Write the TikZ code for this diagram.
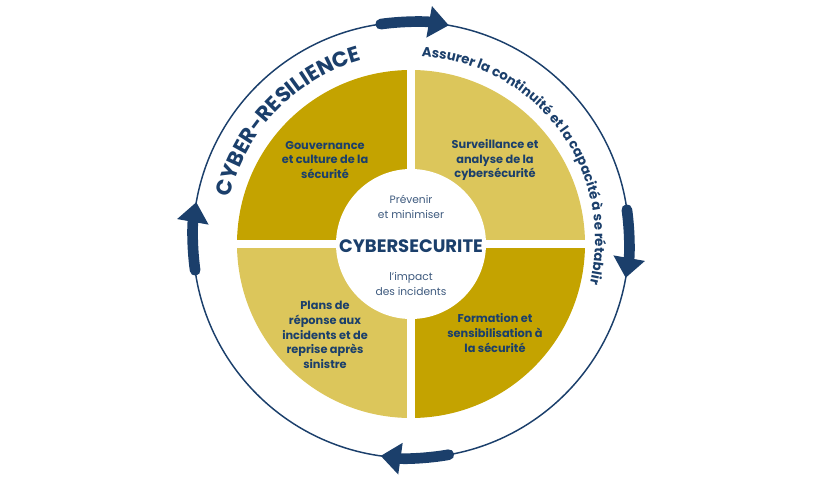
\documentclass[tikz,border=0pt]{standalone}
\usepackage{fontspec}
\setmainfont{Poppins}
\usetikzlibrary{decorations.text,arrows.meta}
\definecolor{navy}{HTML}{1B3F6B}
\definecolor{darkgold}{HTML}{C4A300}
\definecolor{lightgold}{HTML}{DCC65B}
\definecolor{softnavy}{HTML}{3E5A7E}
\tikzset{
  qtext/.style={text=navy,font=\bfseries\fontsize{8.5}{11}\selectfont,align=center},
  ctext/.style={text=softnavy,font=\fontsize{8}{11}\selectfont,align=center},
  cyc/.style={navy,line width=8pt,line cap=round,-{Triangle[length=15pt,width=23pt]}},
}
\begin{document}
\begin{tikzpicture}[x=0.75pt,y=0.75pt]
\useasboundingbox (0,0) rectangle (840,480);
\coordinate (O) at (411,240);
\coordinate (C) at (411,236);
% outer circle
\draw[navy,line width=1.1pt] (O) circle (218);
% quadrants
\fill[darkgold] (C) -- ++(180:174) arc (180:90:174) -- cycle;
\fill[lightgold] (C) -- ++(90:174) arc (90:0:174) -- cycle;
\fill[darkgold] (C) -- ++(0:174) arc (0:-90:174) -- cycle;
\fill[lightgold] (C) -- ++(-90:174) arc (-90:-180:174) -- cycle;
\draw[white,line width=6pt] ([xshift=-180]C) -- ([xshift=180]C);
\draw[white,line width=6pt] ([yshift=-180]C) -- ([yshift=180]C);
\fill[white] (C) circle (75);
% cycle arrows
\draw[cyc] (O) ++(98:218) arc (98:80:218);
\draw[cyc] (O) ++(8:218) arc (8:-10:218);
\draw[cyc] (O) ++(-80:218) arc (-80:-98:218);
\draw[cyc] (O) ++(188:218) arc (188:170:218);
% curved texts
\path[decorate,decoration={text along path,text align=center,
  text={|\bfseries\fontsize{16}{16}\selectfont\color{navy}|CYBER-RESILIENCE}}]
  (O) ++(168:186) arc (168:104:186);
\path[decorate,decoration={text along path,text align=center,
  text={|\bfseries\fontsize{10}{12}\selectfont\color{navy}|Assurer la continuité et la capacité à se rétablir}}]
  (O) ++(91:184) arc (91:-18:184);
% quadrant texts
\node[qtext] (tl) at (325,320) {Gouvernance\\et culture de la\\sécurité};
\node[qtext] (tr) at (495,320) {Surveillance et\\analyse de la\\cybersécurité};
\node[qtext] (bl) at (325,145) {Plans de\\réponse aux\\incidents et de\\reprise après\\sinistre};
\node[qtext] (br) at (495,147) {Formation et\\sensibilisation à\\la sécurité};
% centre
\node[ctext] (c1) at (411,273) {Prévenir\\et minimiser};
\node[text=navy,font=\bfseries\fontsize{13.5}{14}\selectfont] (c2) at (411,234) {CYBERSECURITE};
\node[ctext] (c3) at (411,196) {l'impact\\des incidents};
\end{tikzpicture}
\end{document}
